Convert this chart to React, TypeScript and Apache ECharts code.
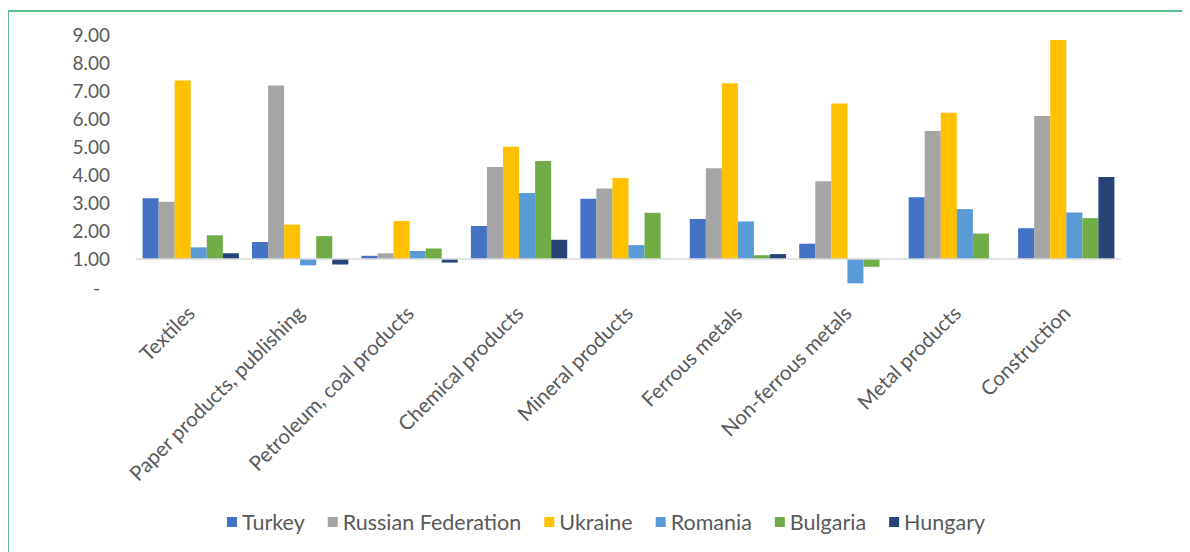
import React, { useEffect, useRef } from "react";
import * as echarts from "echarts";

const categories = [
  "Textiles",
  "Paper products, publishing",
  "Petroleum, coal products",
  "Chemical products",
  "Mineral products",
  "Ferrous metals",
  "Non-ferrous metals",
  "Metal products",
  "Construction",
];

const turkey = [3.16, 1.6, 1.11, 2.17, 3.14, 2.42, 1.54, 3.19, 2.09];
const russia = [3.03, 7.17, 1.2, 4.27, 3.5, 4.22, 3.76, 5.55, 6.08];
const ukraine = [7.35, 2.22, 2.35, 4.99, 3.88, 7.25, 6.53, 6.2, 8.79];
const romania = [1.41, 0.77, 1.28, 3.34, 1.49, 2.33, 0.13, 2.77, 2.65];
const bulgaria = [1.84, 1.81, 1.37, 4.48, 2.64, 1.13, 0.72, 1.9, 2.45];
const hungary: (number | null)[] = [1.2, 0.8, 0.87, 1.68, null, 1.17, null, null, 3.91];

const seriesNames = ["Turkey", "Russian Federation", "Ukraine", "Romania", "Bulgaria", "Hungary"];
const seriesData = [turkey, russia, ukraine, romania, bulgaria, hungary];
const colors = ["#4472C4", "#A5A5A5", "#FFC000", "#5B9BD5", "#70AD47", "#264478"];

// Bars in the reference grow from the 1.00 line
const BASE = 1;

export default function App() {
  const ref = useRef<HTMLDivElement>(null);
  useEffect(() => {
    if (!ref.current) return;
    const chart = echarts.init(ref.current, undefined, { renderer: "svg" });
    const font = "Lato, 'Noto Sans', sans-serif";
    chart.setOption({
      animation: false,
      textStyle: { fontFamily: font },
      color: colors,
      graphic: [
        {
          type: "rect",
          shape: { x: 0, y: 3, width: 1400, height: 800 },
          style: { fill: "none", stroke: "#5cbd8c", lineWidth: 2 },
          silent: true,
        },
      ],
      grid: { left: 128, right: 69, top: 26, bottom: 265, containLabel: false },
      legend: {
        left: 214,
        top: 498,
        itemWidth: 10,
        itemHeight: 10,
        itemGap: 23,
        icon: "rect",
        textStyle: { color: "#595959", fontSize: 21.5, fontFamily: font },
        data: seriesNames,
      },
      xAxis: {
        type: "category",
        data: categories,
        axisLine: { show: false, onZero: false },
        axisTick: { show: false },
        axisLabel: {
          rotate: 45,
          interval: 0,
          margin: 22,
          color: "#595959",
          fontSize: 20.5,
          fontFamily: font,
        },
      },
      yAxis: {
        type: "value",
        min: -1,
        max: 8,
        interval: 1,
        splitLine: { show: false },
        axisLine: { show: false },
        axisTick: { show: false },
        axisLabel: {
          margin: 26,
          color: "#595959",
          fontSize: 19,
          fontFamily: font,
          formatter: (v: number) => {
            const real = Math.round((v + BASE) * 100) / 100;
            if (real === 0) return "{d|-}";
            return real.toFixed(2);
          },
          rich: {
            d: { padding: [0, 10, 0, 0], fontSize: 19, color: "#595959", fontFamily: font },
          },
        },
      },
      series: seriesNames.map((name, i) => ({
        name,
        type: "bar",
        barGap: "0%",
        barCategoryGap: "12%",
        data: seriesData[i].map((v) => (v === null ? null : v - BASE)),
        itemStyle: { color: colors[i] },
        ...(i === 0
          ? {
              markLine: {
                silent: true,
                symbol: "none",
                label: { show: false },
                lineStyle: { color: "#d9d9d9", width: 1.5, type: "solid" },
                data: [{ yAxis: 0 }],
              },
            }
          : {}),
      })),
    });
    return () => chart.dispose();
  }, []);
  return <div ref={ref} style={{ width: 1182, height: 544 }} />;
}
